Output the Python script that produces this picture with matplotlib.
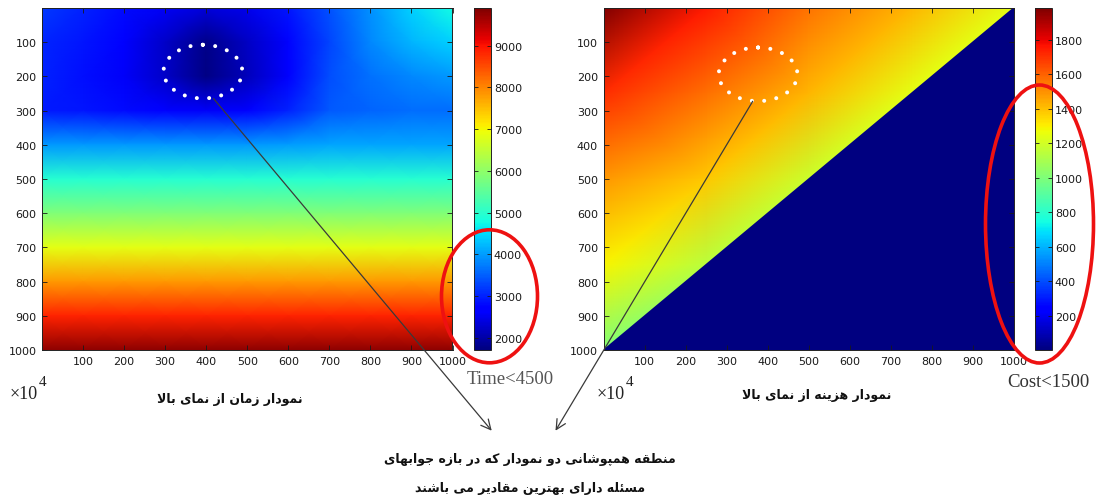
import matplotlib
matplotlib.use("Agg")
import matplotlib.pyplot as plt
from matplotlib.patches import Ellipse, FancyArrowPatch
from matplotlib.colors import Normalize
import matplotlib.tri as mtri
import numpy as np

# ---------------- data ----------------
x_grid = [0, 100, 200, 300, 400, 500, 600, 700, 800, 900, 1000]
y_grid = [0, 100, 200, 300, 400, 500, 600, 700, 800, 900, 1000]

# time surface (rows = y_grid, cols = x_grid)
time_row_0 = [3200, 3000, 2800, 2550, 2350, 2500, 2900, 3400, 3900, 4400, 4750]
time_row_100 = [3050, 2900, 2650, 2250, 1800, 2200, 2750, 3300, 3850, 4200, 4400]
time_row_200 = [3000, 2850, 2600, 2250, 1750, 2150, 2700, 3350, 3650, 3850, 3950]
time_row_300 = [2950, 2900, 2800, 2700, 2600, 2700, 3000, 3450, 3550, 3600, 3600]
time_row_400 = [3950, 3950, 3950, 3950, 3950, 3950, 4000, 4050, 4050, 4050, 4050]
time_row_500 = [4950, 4950, 4950, 4950, 4950, 4950, 4950, 4950, 4950, 4950, 4950]
time_row_600 = [5850, 5850, 5850, 5850, 5850, 5850, 5850, 5850, 5850, 5850, 5850]
time_row_700 = [6850, 6850, 6850, 6850, 6850, 6850, 6850, 6850, 6850, 6850, 6850]
time_row_800 = [7850, 7850, 7850, 7850, 7850, 7850, 7850, 7850, 7850, 7850, 7850]
time_row_900 = [8850, 8850, 8850, 8850, 8850, 8850, 8850, 8850, 8850, 8850, 8850]
time_row_1000 = [9800, 9800, 9800, 9800, 9800, 9800, 9800, 9800, 9800, 9800, 9800]
time_rows = [time_row_0, time_row_100, time_row_200, time_row_300, time_row_400,
             time_row_500, time_row_600, time_row_700, time_row_800, time_row_900,
             time_row_1000]
time_range = [1710, 9900]
time_ticks = [2000, 3000, 4000, 5000, 6000, 7000, 8000, 9000]

# cost surface: sampled points in the feasible (upper-left) triangle
cost_x = [0, 250, 0, 500, 250, 0, 750, 500, 250, 0, 1000, 750, 500, 250, 0]
cost_y = [0, 0, 250, 0, 250, 500, 0, 250, 500, 750, 0, 250, 500, 750, 1000]
cost_v = [1983, 1750, 1710, 1560, 1570, 1487, 1420, 1420, 1380, 1290,
          1240, 1240, 1180, 1140, 1000]
# infeasible (lower-right) triangle, value 0
zero_x = [1000, 1000, 0]
zero_y = [0, 1000, 1000]
zero_v = [0, 0, 0]
cost_range = [0, 1983]
cost_ticks = [200, 400, 600, 800, 1000, 1200, 1400, 1600, 1800]

axis_ticks = [100, 200, 300, 400, 500, 600, 700, 800, 900, 1000]

caption_time = "نمودار زمان از نمای بالا"
caption_cost = "نمودار هزینه از نمای بالا"
bottom_line1 = "منطقه همپوشانی دو نمودار که در بازه جوابهای"
bottom_line2 = "مسئله دارای بهترین مقادیر می باشند"
label_time = "Time<4500"
label_cost = "Cost<1500"

# ---------------- minimal Arabic/Persian shaping ----------------
FORMS = {
    '\u0627': ('\uFE8D', '\uFE8E', None, None),
    '\u0628': ('\uFE8F', '\uFE90', '\uFE91', '\uFE92'),
    '\u062A': ('\uFE95', '\uFE96', '\uFE97', '\uFE98'),
    '\u062C': ('\uFE9D', '\uFE9E', '\uFE9F', '\uFEA0'),
    '\u062F': ('\uFEA9', '\uFEAA', None, None),
    '\u0631': ('\uFEAD', '\uFEAE', None, None),
    '\u0632': ('\uFEAF', '\uFEB0', None, None),
    '\u0633': ('\uFEB1', '\uFEB2', '\uFEB3', '\uFEB4'),
    '\u0634': ('\uFEB5', '\uFEB6', '\uFEB7', '\uFEB8'),
    '\u0637': ('\uFEC1', '\uFEC2', '\uFEC3', '\uFEC4'),
    '\u0642': ('\uFED5', '\uFED6', '\uFED7', '\uFED8'),
    '\u0644': ('\uFEDD', '\uFEDE', '\uFEDF', '\uFEE0'),
    '\u0645': ('\uFEE1', '\uFEE2', '\uFEE3', '\uFEE4'),
    '\u0646': ('\uFEE5', '\uFEE6', '\uFEE7', '\uFEE8'),
    '\u0647': ('\uFEE9', '\uFEEA', '\uFEEB', '\uFEEC'),
    '\u0648': ('\uFEED', '\uFEEE', None, None),
    '\u0626': ('\uFE89', '\uFE8A', '\uFE8B', '\uFE8C'),
    '\u067E': ('\uFB56', '\uFB57', '\uFB58', '\uFB59'),
    '\u06A9': ('\uFB8E', '\uFB8F', '\uFB90', '\uFB91'),
    '\u0643': ('\uFB8E', '\uFB8F', '\uFB90', '\uFB91'),
    '\u06CC': ('\uFBFC', '\uFBFD', '\uFBFE', '\uFBFF'),
    '\u064A': ('\uFBFC', '\uFBFD', '\uFBFE', '\uFBFF'),
}


def shape(text):
    chars = list(text)
    n = len(chars)
    out = []
    i = 0

    def joins_next(c):
        f = FORMS.get(c)
        return f is not None and f[2] is not None

    while i < n:
        c = chars[i]
        if c not in FORMS:
            out.append(c)
            i += 1
            continue
        prev = chars[i - 1] if i > 0 else None
        jp = prev is not None and joins_next(prev)
        if c == '\u0644' and i + 1 < n and chars[i + 1] == '\u0627':
            out.append('\uFEFC' if jp else '\uFEFB')
            i += 2
            continue
        nxt = chars[i + 1] if i + 1 < n else None
        jn = joins_next(c) and nxt is not None and nxt in FORMS
        iso, fin, ini, med = FORMS[c]
        if jp and jn:
            g = med
        elif jp:
            g = fin
        elif jn:
            g = ini
        else:
            g = iso
        out.append(g)
        i += 1
    return ''.join(reversed(out))


# ---------------- figure ----------------
W, H = 1096, 502
fig = plt.figure(figsize=(W / 100, H / 100), dpi=100)
fig.patch.set_facecolor('white')


def rect(l, t, r, b):
    return [l / W, 1 - b / H, (r - l) / W, (b - t) / H]


def fx(x):
    return x / W


def fy(y):
    return 1 - y / H


cmap = plt.get_cmap('jet')


def style_axes(ax):
    ax.set_xlim(0, 1000)
    ax.set_ylim(1000, 0)
    ax.set_xticks(axis_ticks)
    ax.set_yticks(axis_ticks)
    ax.set_xticklabels([str(t) for t in axis_ticks])
    ax.set_yticklabels([str(t) for t in axis_ticks])
    ax.tick_params(direction='in', top=True, right=True, length=3.5, width=0.6,
                   labelsize=8, colors='#1a1a1a', pad=4)
    for s in ax.spines.values():
        s.set_linewidth(0.7)
        s.set_color('#222222')


def style_cbar(cb):
    cb.ax.tick_params(direction='in', left=True, right=True, length=3, width=0.6,
                      labelsize=8, colors='#1a1a1a', pad=2)
    cb.outline.set_linewidth(0.7)
    cb.outline.set_edgecolor('#222222')


# ---- left: time ----
ax1 = fig.add_axes(rect(42, 9, 452.5, 351))
norm1 = Normalize(vmin=time_range[0], vmax=time_range[1])
X, Y = np.meshgrid(np.array(x_grid), np.array(y_grid))
Z = np.array(time_rows, dtype=float)
m1 = ax1.pcolormesh(X, Y, Z, shading='gouraud', cmap=cmap, norm=norm1)
style_axes(ax1)
cax1 = fig.add_axes(rect(474, 9, 491, 351))
cb1 = fig.colorbar(m1, cax=cax1, ticks=time_ticks)
style_cbar(cb1)

# ---- right: cost ----
ax2 = fig.add_axes(rect(603.5, 9, 1013.5, 351))
norm2 = Normalize(vmin=cost_range[0], vmax=cost_range[1])
tri_cost = mtri.Triangulation(cost_x, cost_y)
m2 = ax2.tripcolor(tri_cost, cost_v, shading='gouraud', cmap=cmap, norm=norm2)
ax2.tripcolor(zero_x, zero_y, zero_v, shading='gouraud', cmap=cmap, norm=norm2)
style_axes(ax2)
cax2 = fig.add_axes(rect(1035, 9, 1052, 351))
cb2 = fig.colorbar(m2, cax=cax2, ticks=cost_ticks)
style_cbar(cb2)

# ---- white dotted ellipses ----
for ax, (cx, cy) in ((ax1, (392, 186)), (ax2, (377, 194))):
    e = Ellipse((cx, cy), 192, 157, fill=False, edgecolor='white', linewidth=2.9,
                linestyle=(0, (0.01, 3.055)), capstyle='round', zorder=5)
    ax.add_patch(e)

# ---- red ellipses ----
fig.add_artist(Ellipse((fx(489.5), fy(297.3)), 96 / W, 133 / H, transform=fig.transFigure,
                       fill=False, edgecolor='#ee1111', linewidth=2.6, zorder=10))
fig.add_artist(Ellipse((fx(1039.5), fy(225)), 108 / W, 278 / H, transform=fig.transFigure,
                       fill=False, edgecolor='#ee1111', linewidth=2.6, zorder=10))

# ---- connector arrows ----
for (x0, y0), (x1, y1) in (((213.5, 99.5), (491.7, 431.7)), ((752.7, 102.3), (555.5, 431.7))):
    arr = FancyArrowPatch((fx(x0), fy(y0)), (fx(x1), fy(y1)), transform=fig.transFigure,
                          arrowstyle='->,head_length=7,head_width=3.5', color='#3a3a3a',
                          linewidth=0.9, shrinkA=0, shrinkB=0, zorder=11)
    fig.add_artist(arr)

# ---- texts ----
serif = ['Liberation Serif', 'DejaVu Serif']
fig.text(fx(466.5), fy(384), label_time, family=serif, fontsize=13.5, color='#555555',
         ha='left', va='baseline')
fig.text(fx(1007), fy(387), label_cost, family=serif, fontsize=13.5, color='#333333',
         ha='left', va='baseline')
for xl in (10, 597):
    fig.text(fx(xl), fy(399), "\u00d710", family=serif, fontsize=13, color='#222222',
             ha='left', va='baseline')
    fig.text(fx(xl + 29), fy(386), "4", family=serif, fontsize=11, color='#222222',
             ha='left', va='baseline')

ar = ['DejaVu Sans']
fig.text(fx(230), fy(400), shape(caption_time), family=ar, fontsize=9, weight='bold',
         color='#111111', ha='center', va='center')
fig.text(fx(817), fy(396), shape(caption_cost), family=ar, fontsize=9, weight='bold',
         color='#111111', ha='center', va='center')
fig.text(fx(530), fy(460), shape(bottom_line1), family=ar, fontsize=9, weight='bold',
         color='#111111', ha='center', va='center')
fig.text(fx(530), fy(489), shape(bottom_line2), family=ar, fontsize=9, weight='bold',
         color='#111111', ha='center', va='center')

fig.savefig('out.png', dpi=100, facecolor='white')
